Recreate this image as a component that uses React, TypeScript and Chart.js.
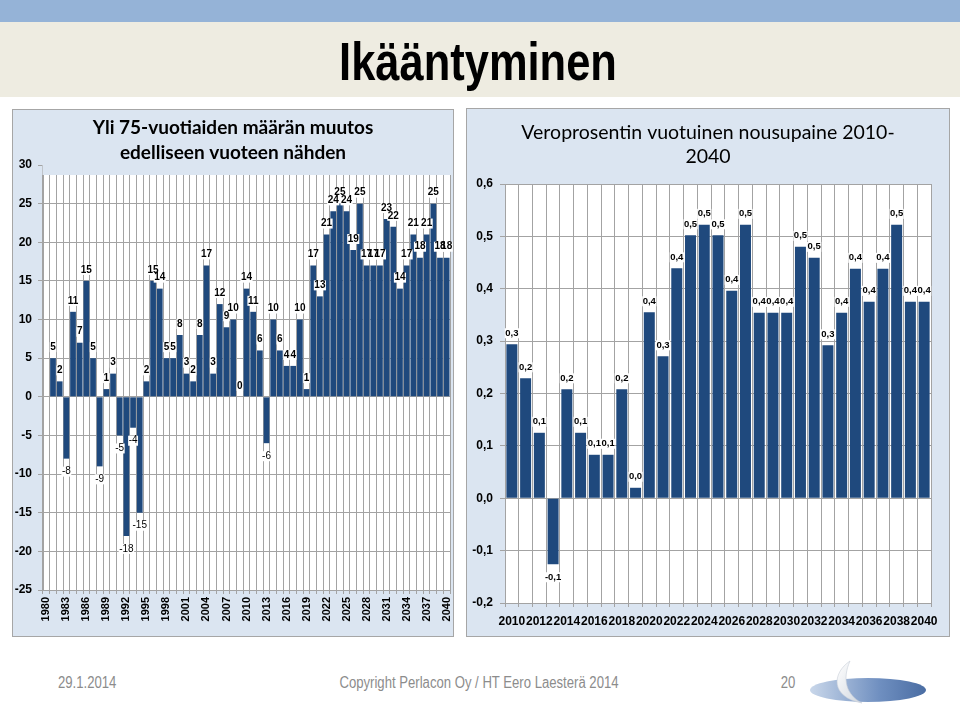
import React, { useEffect, useRef } from 'react';
import { Chart, registerables } from 'chart.js';

Chart.register(...registerables);

// ---------- DATA ----------
const leftYears = [
  '1980','1981','1982','1983','1984','1985','1986','1987','1988','1989',
  '1990','1991','1992','1993','1994','1995','1996','1997','1998','1999',
  '2000','2001','2002','2003','2004','2005','2006','2007','2008','2009',
  '2010','2011','2012','2013','2014','2015','2016','2017','2018','2019',
  '2020','2021','2022','2023','2024','2025','2026','2027','2028','2029',
  '2030','2031','2032','2033','2034','2035','2036','2037','2038','2039','2040',
];
const leftValues: (number | null)[] = [
  null, 5, 2, -8, 11, 7, 15, 5, -9, 1,
  3, -5, -18, -4, -15, 2, 15, 14, 5, 5,
  8, 3, 2, 8, 17, 3, 12, 9, 10, 0,
  14, 11, 6, -6, 10, 6, 4, 4, 10, 1,
  17, 13, 21, 24, 25, 24, 19, 25, 17, 17,
  17, 23, 22, 14, 17, 21, 18, 21, 25, 18, 18,
];
const leftTitle = ['Yli 75-vuotiaiden määrän muutos', 'edelliseen vuoteen nähden'];

const rightYears = [
  '2010','2011','2012','2013','2014','2015','2016','2017','2018','2019',
  '2020','2021','2022','2023','2024','2025','2026','2027','2028','2029',
  '2030','2031','2032','2033','2034','2035','2036','2037','2038','2039','2040',
];
const rightValues = [
  0.294, 0.229, 0.125, -0.126, 0.208, 0.125, 0.083, 0.083, 0.208, 0.02,
  0.355, 0.271, 0.439, 0.502, 0.522, 0.502, 0.396, 0.522, 0.354, 0.354,
  0.354, 0.48, 0.459, 0.292, 0.354, 0.438, 0.375, 0.438, 0.522, 0.375, 0.375,
];
const rightTitle = ['Veroprosentin vuotuinen nousupaine 2010-', '2040'];

const slideTitle = 'Ikääntyminen';
const footerDate = '29.1.2014';
const footerCopy = 'Copyright Perlacon Oy / HT Eero Laesterä 2014';
const footerPage = '20';

// ---------- STYLE ----------
const BAR = '#1f497d';
const GRID = '#a3a3a3';
const PANEL_BG = '#dbe5f1';
const PANEL_BORDER = '#a6a6a6';
const FONT = '"Liberation Sans", Arial, sans-serif';
const TITLE_FONT = 'Lato, "Liberation Sans", sans-serif';

const comma = (v: number) => v.toFixed(1).replace('.', ',');

type PanelOpts = {
  title: string[];
  titleFont: string;
  titleY: number[];
  coverTo?: number;
  fmt: (v: number) => string;
  posFont: string;
  negFont: string;
  posOff: number;
  negOff: number;
};

function makePanelPlugin(o: PanelOpts) {
  return {
    id: 'panelDecor',
    beforeDraw(chart: any) {
      const { ctx, width, height, chartArea: a } = chart;
      ctx.save();
      ctx.fillStyle = PANEL_BG;
      ctx.fillRect(0, 0, width, height);
      ctx.strokeStyle = PANEL_BORDER;
      ctx.lineWidth = 1;
      ctx.strokeRect(0.5, 0.5, width - 1, height - 1);
      ctx.fillStyle = '#ffffff';
      ctx.fillRect(a.left, a.top, a.right - a.left, a.bottom - a.top);
      ctx.restore();
    },
    afterDatasetsDraw(chart: any) {
      const { ctx } = chart;
      const meta = chart.getDatasetMeta(0);
      const data = chart.data.datasets[0].data;
      const items: { x: number; cy: number; txt: string; font: string; w: number }[] = [];
      ctx.save();
      meta.data.forEach((bar: any, i: number) => {
        const v = data[i];
        if (v === null || v === undefined) return;
        const { x, y } = bar.getProps(['x', 'y'], true);
        const txt = o.fmt(v);
        const font = v < 0 ? o.negFont : o.posFont;
        ctx.font = font;
        const w = ctx.measureText(txt).width;
        const cy = v >= 0 ? y - o.posOff : y + o.negOff;
        items.push({ x, cy, txt, font, w });
      });
      // pass 1: white label backgrounds (hide gridlines behind text)
      ctx.fillStyle = '#ffffff';
      items.forEach((it) => ctx.fillRect(it.x - it.w / 2 - 0.5, it.cy - 5, it.w + 1, 10));
      // pass 2: label texts
      ctx.fillStyle = '#000000';
      ctx.textAlign = 'center';
      ctx.textBaseline = 'middle';
      items.forEach((it) => {
        ctx.font = it.font;
        ctx.fillText(it.txt, it.x, it.cy);
      });
      ctx.restore();
    },
    afterDraw(chart: any) {
      const { ctx, chartArea: a, width } = chart;
      ctx.save();
      if (o.coverTo !== undefined) {
        ctx.fillStyle = PANEL_BG;
        ctx.fillRect(a.left - 0.5, a.top - 1, a.right - a.left + 1.5, o.coverTo - a.top + 1);
      }
      ctx.fillStyle = '#000000';
      ctx.font = o.titleFont;
      ctx.textAlign = 'center';
      ctx.textBaseline = 'middle';
      o.title.forEach((line, i) => ctx.fillText(line, width / 2, o.titleY[i]));
      ctx.restore();
    },
  };
}

function LeftChart() {
  const ref = useRef<HTMLCanvasElement>(null);
  useEffect(() => {
    const chart = new Chart(ref.current as HTMLCanvasElement, {
      type: 'bar',
      data: {
        labels: leftYears,
        datasets: [{
          data: leftValues,
          backgroundColor: BAR,
          borderWidth: 0,
          categoryPercentage: 1,
          barPercentage: 0.86,
        }],
      },
      options: {
        responsive: false,
        animation: false,
        events: [],
        layout: { padding: { left: 0, right: 4, top: 56, bottom: 0 } },
        plugins: { legend: { display: false }, tooltip: { enabled: false }, title: { display: false } },
        scales: {
          x: {
            offset: true,
            grid: { color: GRID, offset: true, drawTicks: true, tickLength: 4 },
            border: { color: GRID },
            ticks: {
              autoSkip: false,
              minRotation: 90,
              maxRotation: 90,
              padding: 3,
              color: '#000',
              font: { family: FONT, size: 11, weight: 'bold' },
              callback: (_v: any, i: number) => (i % 3 === 0 ? leftYears[i] : ''),
            },
            afterFit: (s: any) => { s.height = 47; s.paddingLeft = 0; s.paddingRight = 0; },
          },
          y: {
            min: -25,
            max: 30,
            grid: { color: GRID, drawTicks: true, tickLength: 5 },
            border: { color: GRID },
            ticks: {
              stepSize: 5,
              padding: 6,
              color: '#000',
              font: { family: FONT, size: 12, weight: 'bold' },
            },
            afterFit: (s: any) => { s.width = 31; s.paddingTop = 0; s.paddingBottom = 0; },
          },
        },
      },
      plugins: [makePanelPlugin({
        title: leftTitle,
        titleFont: `bold 19px ${TITLE_FONT}`,
        titleY: [19, 44],
        coverTo: 66,
        fmt: (v) => String(Math.round(v)),
        posFont: `bold 10px ${FONT}`,
        negFont: `10px ${FONT}`,
        posOff: 11,
        negOff: 13,
      })],
    } as any);
    return () => chart.destroy();
  }, []);
  return <canvas ref={ref} width={442} height={528} style={{ position: 'absolute', left: 12, top: 109, width: 442, height: 528 }} />;
}

function RightChart() {
  const ref = useRef<HTMLCanvasElement>(null);
  useEffect(() => {
    const chart = new Chart(ref.current as HTMLCanvasElement, {
      type: 'bar',
      data: {
        labels: rightYears,
        datasets: [{
          data: rightValues,
          backgroundColor: BAR,
          borderWidth: 0,
          categoryPercentage: 1,
          barPercentage: 0.8,
        }],
      },
      options: {
        responsive: false,
        animation: false,
        events: [],
        layout: { padding: { left: 0, right: 19, top: 76, bottom: 0 } },
        plugins: { legend: { display: false }, tooltip: { enabled: false }, title: { display: false } },
        scales: {
          x: {
            offset: true,
            grid: { color: GRID, offset: true, drawTicks: true, tickLength: 4 },
            border: { color: GRID },
            ticks: {
              autoSkip: false,
              minRotation: 0,
              maxRotation: 0,
              padding: 7,
              color: '#000',
              font: { family: FONT, size: 12, weight: 'bold' },
              callback: (_v: any, i: number) => (i % 2 === 0 ? rightYears[i] : ''),
            },
            afterFit: (s: any) => { s.height = 34; s.paddingLeft = 0; s.paddingRight = 0; },
          },
          y: {
            min: -0.2,
            max: 0.6,
            grid: { color: GRID, drawTicks: true, tickLength: 5 },
            border: { color: GRID },
            ticks: {
              stepSize: 0.1,
              padding: 7,
              color: '#000',
              font: { family: FONT, size: 12, weight: 'bold' },
              callback: (v: any) => comma(Number(v)),
            },
            afterFit: (s: any) => { s.width = 39; s.paddingTop = 0; s.paddingBottom = 0; },
          },
        },
      },
      plugins: [makePanelPlugin({
        title: rightTitle,
        titleFont: `19.5px ${TITLE_FONT}`,
        titleY: [25, 49],
        fmt: comma,
        posFont: `bold 9.5px ${FONT}`,
        negFont: `bold 9.5px ${FONT}`,
        posOff: 11,
        negOff: 13,
      })],
    } as any);
    return () => chart.destroy();
  }, []);
  return <canvas ref={ref} width={484} height={529} style={{ position: 'absolute', left: 466, top: 108, width: 484, height: 529 }} />;
}

const narrow = (extra: React.CSSProperties): React.CSSProperties => ({
  position: 'absolute',
  fontFamily: FONT,
  whiteSpace: 'nowrap',
  transform: 'scaleX(0.82)',
  ...extra,
});

export default function App() {
  return (
    <div style={{ position: 'absolute', left: 0, top: 0, width: 960, height: 707, background: '#ffffff', overflow: 'hidden' }}>
      <div style={{ position: 'absolute', left: 0, top: 0, width: 960, height: 22, background: '#95b3d7' }} />
      <div style={{ position: 'absolute', left: 0, top: 22, width: 960, height: 75, background: '#eeece1' }} />
      <div style={narrow({ left: 0, top: 35, width: 956, textAlign: 'center', fontSize: 53, lineHeight: '53px', fontWeight: 'bold', color: '#000', transformOrigin: '478px 0' })}>
        {slideTitle}
      </div>
      <LeftChart />
      <RightChart />
      <div style={narrow({ left: 58, top: 673, fontSize: 16, lineHeight: '20px', color: '#8c8c8c', transformOrigin: '0 0' })}>{footerDate}</div>
      <div style={narrow({ left: 0, top: 673, width: 958, textAlign: 'center', fontSize: 16, lineHeight: '20px', color: '#8c8c8c', transformOrigin: '479px 0' })}>{footerCopy}</div>
      <div style={narrow({ left: 688, top: 673, width: 200, textAlign: 'center', fontSize: 16, lineHeight: '20px', color: '#8c8c8c', transformOrigin: '100px 0' })}>{footerPage}</div>
      <svg width={140} height={70} style={{ position: 'absolute', left: 800, top: 637 }} viewBox="0 0 140 70">
        <defs>
          <linearGradient id="moonBase" x1="0" y1="0" x2="1" y2="0">
            <stop offset="0" stopColor="#c9d7ea" />
            <stop offset="0.6" stopColor="#6f8fc0" />
            <stop offset="1" stopColor="#4a6da3" />
          </linearGradient>
          <linearGradient id="moonCres" x1="0" y1="0" x2="1" y2="1">
            <stop offset="0" stopColor="#ffffff" />
            <stop offset="1" stopColor="#d0d6de" />
          </linearGradient>
        </defs>
        <ellipse cx={68} cy={53} rx={58} ry={12} fill="url(#moonBase)" />
        <path d="M 50 24 C 32 36, 30 60, 62 66 C 46 58, 42 42, 50 24 Z" fill="url(#moonCres)" stroke="#c8cfd8" strokeWidth={0.6} />
      </svg>
    </div>
  );
}
